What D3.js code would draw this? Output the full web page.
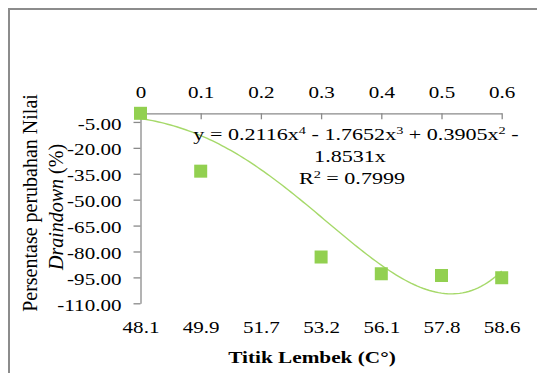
<!DOCTYPE html>
<html><head><meta charset="utf-8">
<script src="https://cdn.jsdelivr.net/npm/d3@7"></script>
<style>
html,body{margin:0;padding:0;background:#fff;}
svg{display:block;}
</style>
</head><body>
<svg id="c" width="537" height="373"></svg>
<script>
// ---- data ----
const topTicks = [0, 0.1, 0.2, 0.3, 0.4, 0.5, 0.6];
const categories = ["48.1", "49.9", "51.7", "53.2", "56.1", "57.8", "58.6"];
const yTicks = [-5, -20, -35, -50, -65, -80, -95, -110];
const pointX = [0, 0.1, 0.3, 0.4, 0.5, 0.6];
const pointY = [0, -33.5, -83.2, -92.9, -93.9, -95.2];
const trendCoef = [0.2116, -1.7652, 0.3905, -1.8531, 0]; // x^4 .. x^0, x = 1..7
const trendIndex = [1, 7];
const eqLines = ["y = 0.2116x⁴ - 1.7652x³ + 0.3905x² -", "1.8531x", "R² = 0.7999"];

// ---- layout ----
const svg = d3.select("#c");
const FONT = "'Liberation Serif','Times New Roman',serif";
const axisColor = "#8a8a8a";
const green = "#92D050";

svg.append("rect").attr("x", 9).attr("y", 9).attr("width", 700).attr("height", 500)
  .attr("fill", "#fff").attr("stroke", "#8c8c8c").attr("stroke-width", 2);

const x = d3.scaleLinear().domain([0, 0.6]).range([140.5, 501.7]);
const y = d3.scaleLinear().domain([-110, 0]).range([303.3, 113.3]);
const xc = d3.scalePoint().domain(categories).range([140.5, 501.7]);

// top axis (0 .. 0.6), ticks pointing down
const gTop = svg.append("g").attr("transform", `translate(0,${y(0)})`)
  .call(d3.axisTop(x).tickValues(topTicks).tickFormat(d => String(d)).tickSize(-6).tickSizeOuter(0).tickPadding(15));
// left axis
const gLeft = svg.append("g").attr("transform", `translate(${x(0)},0)`)
  .call(d3.axisLeft(y).tickValues(yTicks).tickFormat(d => d.toFixed(2)).tickSize(7).tickSizeOuter(0).tickPadding(12));
// bottom category labels
const gBot = svg.append("g").attr("transform", `translate(0,333)`)
  .call(d3.axisBottom(xc).tickSize(0).tickPadding(0));
gBot.select(".domain").remove();
gBot.selectAll(".tick line").remove();

[gTop, gLeft, gBot].forEach(g => {
  g.selectAll(".domain").attr("stroke", axisColor).attr("stroke-width", 1.3);
  g.selectAll(".tick line").attr("stroke", axisColor).attr("stroke-width", 1.3);
  g.selectAll("text").attr("font-family", FONT).attr("font-size", 17).attr("fill", "#000");
});
gTop.selectAll(".tick text").attr("transform", "scale(1.24,1)");
gBot.selectAll(".tick text").attr("y", 0).attr("dy", 0).attr("transform", "scale(1.24,1)");
gLeft.selectAll(".tick text").each(function () {
  const t = d3.select(this);
  const xx = +t.attr("x");
  t.attr("x", 0).attr("dy", "0.42em").attr("transform", `translate(${xx},0) scale(1.24,1)`);
});

// trendline (polynomial shown in the label, over category index 1..7)
const poly = X => trendCoef.reduce((acc, c) => acc * X + c, 0);
const trendPts = d3.range(trendIndex[0], trendIndex[1] + 0.0001, 0.05).map(X => [(X - 1) / 10, poly(X)]);
svg.append("path").datum(trendPts)
  .attr("d", d3.line().x(d => x(d[0])).y(d => y(d[1])))
  .attr("fill", "none").attr("stroke", "#a6d96a").attr("stroke-width", 1.4);

// markers
const ms = 13;
svg.append("g").selectAll("rect").data(pointX.map((v, i) => [v, pointY[i]])).join("rect")
  .attr("x", d => x(d[0]) - ms / 2).attr("y", d => y(d[1]) - ms / 2)
  .attr("width", ms).attr("height", ms).attr("fill", green);

// equation label
function eqText(str, cx, by, sx) {
  const t = svg.append("text").attr("x", 0).attr("y", 0)
    .attr("transform", `translate(${cx},${by}) scale(${sx},1)`)
    .attr("text-anchor", "middle").attr("font-family", FONT).attr("font-size", 17).attr("fill", "#000");
  const parts = str.split(/([⁴³²])/);
  const supMap = { "⁴": "4", "³": "3", "²": "2" };
  let up = false;
  parts.forEach(p => {
    if (!p) return;
    if (supMap[p]) {
      t.append("tspan").attr("font-size", 11).attr("dy", -6).text(supMap[p]);
      up = true;
    } else {
      const ts = t.append("tspan").text(p);
      if (up) { ts.attr("dy", 6); up = false; }
    }
  });
}
eqText(eqLines[0], 356, 140, 1.3);
eqText(eqLines[1], 350, 162, 1.3);
eqText(eqLines[2], 352, 184, 1.3);

// y axis title
svg.append("text").attr("transform", "translate(37,203) rotate(-90)")
  .attr("text-anchor", "middle").attr("font-family", FONT).attr("font-size", 20).attr("fill", "#000")
  .text("Persentase perubahan Nilai");
const yt2 = svg.append("text").attr("transform", "translate(63,207) rotate(-90)")
  .attr("text-anchor", "middle").attr("font-family", FONT).attr("font-size", 20).attr("fill", "#000");
yt2.append("tspan").attr("font-style", "italic").text("Draindown");
yt2.append("tspan").text(" (%)");

// x axis title
svg.append("text").attr("transform", "translate(312,363) scale(1.25,1)")
  .attr("text-anchor", "middle").attr("font-family", FONT).attr("font-size", 17)
  .attr("font-weight", "bold").attr("fill", "#000").text("Titik Lembek (C°)");
</script>
</body></html>
